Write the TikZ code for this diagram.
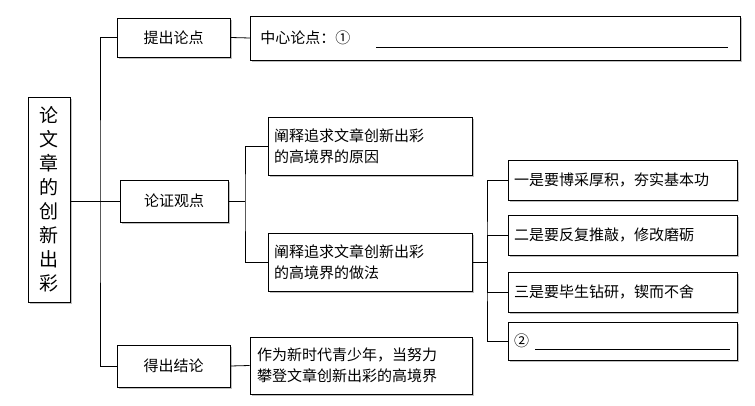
\documentclass[tikz,border=0pt]{standalone}
\usepackage{fontspec}
\setmainfont{Noto Sans CJK SC}
\usetikzlibrary{positioning,calc}
\begin{document}
\begin{tikzpicture}[x=1pt,y=-1pt,thick,
  box/.style={draw,fill=white,inner sep=0pt,font=\fontsize{15}{21}\selectfont,
    preaction={fill=black!25,transform canvas={shift={(2pt,-2pt)}}}},
  line/.style={-,line width=0.8pt}]
  \useasboundingbox (0,0) rectangle (755,406);

  \node[box,minimum width=42,minimum height=205,align=center,text width=22,
    font=\fontsize{19}{24}\selectfont] (T) at (49,199.5)
    {论\\文\\章\\的\\创\\新\\出\\彩};
  \node[box,minimum width=113,minimum height=39] (A) at (173.5,37.5) {提出论点};
  \node[box,minimum width=108,minimum height=42] (B) at (174,201) {论证观点};
  \node[box,minimum width=113,minimum height=42] (C) at (173.5,366) {得出结论};

  \node[box,minimum width=490,minimum height=44,anchor=west,text width=470] (A1) at (250,38) {中心论点：①};
  \draw[line] (376,47) -- (728,47);

  \node[box,minimum width=204,minimum height=58,text width=192] (B1) at (370,146)
    {阐释追求文章创新出彩\\的高境界的原因};
  \node[box,minimum width=204,minimum height=58,text width=192] (B2) at (370,262)
    {阐释追求文章创新出彩\\的高境界的做法};

  \node[box,minimum width=229,minimum height=40,text width=217] (D1) at (622.5,180) {一是要博采厚积，夯实基本功};
  \node[box,minimum width=229,minimum height=40,text width=217] (D2) at (622.5,235) {二是要反复推敲，修改磨砺};
  \node[box,minimum width=229,minimum height=40,text width=217] (D3) at (622.5,292) {三是要毕生钻研，锲而不舍};
  \node[box,minimum width=229,minimum height=38,text width=217] (D4) at (622.5,341) {②};
  \draw[line] (535,349) -- (730,349);

  \node[box,minimum width=222,minimum height=57,text width=208] (C1) at (361,365.5)
    {作为新时代青少年，当努力\\攀登文章创新出彩的高境界};

  % level one
  \coordinate (j1) at (100,201);
  \draw[line] (T.east |- j1) -- (j1);
  \draw[line] (A.west) -| (j1) |- (C.west);
  \draw[line] (j1) -- (B.west);
  \draw[line] (A.east) -- (A1.west);
  \draw[line] (C.east) -- (C1.west);

  % level two
  \coordinate (j2) at (245,201);
  \draw[line] (B.east) -- (j2);
  \draw[line] (B1.west) -| (j2) |- (B2.west);

  % level three
  \coordinate (j3) at (487,262);
  \draw[line] (B2.east) -- (j3);
  \draw[line] (D1.west) -| (j3) |- (D4.west);
  \draw[line] (D2.west) -| (j3);
  \draw[line] (D3.west) -| (j3);
\end{tikzpicture}
\end{document}
